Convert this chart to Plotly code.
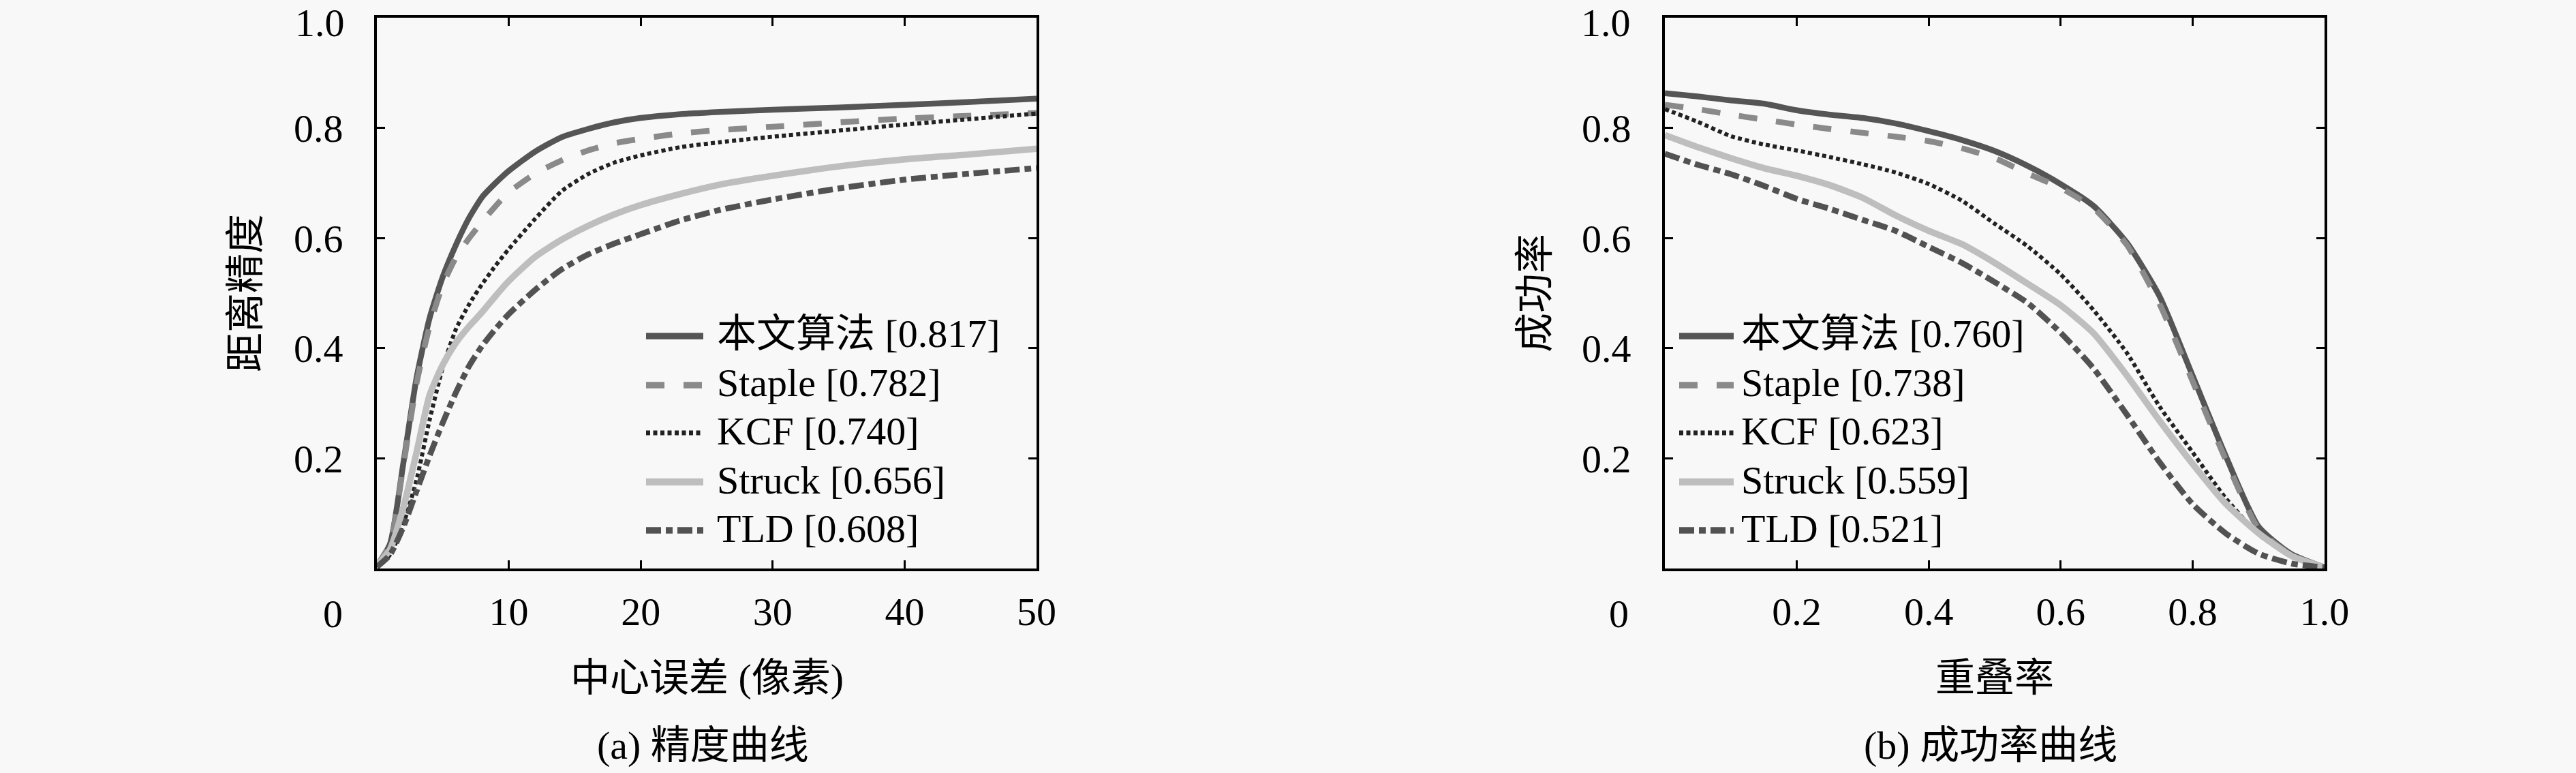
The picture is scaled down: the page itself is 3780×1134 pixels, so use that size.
import plotly.graph_objects as go

# ---------------- data ----------------
names = ["本文算法", "Staple", "KCF", "Struck", "TLD"]
prec_scores = ["0.817", "0.782", "0.740", "0.656", "0.608"]
succ_scores = ["0.760", "0.738", "0.623", "0.559", "0.521"]

# precision plot (center location error, pixels)
prec_x = [0, 1, 2, 3, 4, 5, 6, 7, 8, 9, 10, 12, 14, 16, 18, 20, 23, 26, 30, 35, 40, 45, 50]
prec_ours   = [0.005, 0.045, 0.19, 0.345, 0.455, 0.53, 0.588, 0.637, 0.675, 0.70, 0.722, 0.757, 0.783, 0.798, 0.81, 0.818, 0.825, 0.829, 0.833, 0.837, 0.842, 0.847, 0.853]
prec_staple = [0.005, 0.045, 0.185, 0.335, 0.44, 0.515, 0.565, 0.60, 0.63, 0.658, 0.683, 0.717, 0.741, 0.759, 0.772, 0.78, 0.79, 0.796, 0.802, 0.81, 0.817, 0.822, 0.827]
prec_kcf    = [0.003, 0.025, 0.08, 0.16, 0.27, 0.365, 0.435, 0.48, 0.517, 0.55, 0.58, 0.635, 0.685, 0.716, 0.737, 0.75, 0.765, 0.774, 0.784, 0.795, 0.806, 0.816, 0.826]
prec_struck = [0.005, 0.035, 0.11, 0.21, 0.315, 0.37, 0.41, 0.44, 0.466, 0.495, 0.522, 0.566, 0.597, 0.622, 0.643, 0.66, 0.68, 0.697, 0.713, 0.73, 0.743, 0.752, 0.762]
prec_tld    = [0.003, 0.025, 0.075, 0.14, 0.205, 0.265, 0.32, 0.368, 0.405, 0.435, 0.462, 0.506, 0.543, 0.57, 0.59, 0.607, 0.632, 0.651, 0.67, 0.69, 0.706, 0.717, 0.727]

# success plot (overlap threshold)
succ_x = [0, 0.05, 0.1, 0.15, 0.2, 0.25, 0.3, 0.35, 0.4, 0.45, 0.5, 0.55, 0.6, 0.65, 0.7, 0.75, 0.8, 0.85, 0.9, 0.95, 1.0]
succ_ours   = [0.863, 0.857, 0.85, 0.844, 0.832, 0.824, 0.818, 0.808, 0.794, 0.778, 0.758, 0.731, 0.698, 0.658, 0.592, 0.494, 0.35, 0.205, 0.076, 0.026, 0.002]
succ_staple = [0.842, 0.834, 0.824, 0.815, 0.806, 0.798, 0.791, 0.784, 0.776, 0.763, 0.745, 0.717, 0.691, 0.654, 0.588, 0.48, 0.34, 0.198, 0.072, 0.024, 0.002]
succ_kcf    = [0.834, 0.811, 0.785, 0.77, 0.759, 0.747, 0.734, 0.719, 0.698, 0.668, 0.626, 0.585, 0.534, 0.469, 0.392, 0.294, 0.211, 0.128, 0.062, 0.022, 0.002]
succ_struck = [0.787, 0.765, 0.745, 0.727, 0.713, 0.696, 0.673, 0.641, 0.613, 0.589, 0.555, 0.517, 0.478, 0.427, 0.351, 0.268, 0.19, 0.118, 0.064, 0.023, 0.002]
succ_tld    = [0.753, 0.733, 0.716, 0.695, 0.671, 0.653, 0.633, 0.613, 0.584, 0.555, 0.52, 0.482, 0.428, 0.363, 0.28, 0.193, 0.117, 0.064, 0.027, 0.009, 0.002]

prec_series = [prec_ours, prec_staple, prec_kcf, prec_struck, prec_tld]
succ_series = [succ_ours, succ_staple, succ_kcf, succ_struck, succ_tld]

prec_ticks = [10, 20, 30, 40, 50]
succ_ticks = [0.2, 0.4, 0.6, 0.8, 1.0]
y_ticks = [0.2, 0.4, 0.6, 0.8]
y_top_label = "1.0"

# ---------------- styles ----------------
colors = ["#555555", "#8a8a8a", "#222222", "#bebebe", "#525252"]
widths = [8.5, 8.5, 6, 9.5, 8.5]
dashes = ["solid", "27px,28px", "6px,4.5px", "solid", "22px,7px,10px,7px"]

W, H = 3780, 1134
FONT = "Liberation Serif, Noto Sans CJK SC, serif"
FS = 58
BG = "#f8f8f8"


def px(xp):
    return xp / W


def py(yp):
    return 1 - yp / H


dom1 = [px(553), px(1521)]
dom2 = [px(2443), px(3411)]
ydom = [py(834), py(26)]

fig = go.Figure()
for i, n in enumerate(names):
    fig.add_trace(go.Scatter(x=prec_x, y=prec_series[i], mode="lines", name=n,
                             line=dict(color=colors[i], width=widths[i], dash=dashes[i], shape="spline", smoothing=0.6),
                             xaxis="x", yaxis="y", showlegend=False))
for i, n in enumerate(names):
    fig.add_trace(go.Scatter(x=succ_x, y=succ_series[i], mode="lines", name=n,
                             line=dict(color=colors[i], width=widths[i], dash=dashes[i], shape="spline", smoothing=0.6),
                             xaxis="x2", yaxis="y2", showlegend=False))

axis_common = dict(showline=True, linecolor="black", linewidth=4, mirror="ticks",
                   ticks="inside", ticklen=12, tickwidth=3, tickcolor="black",
                   showgrid=False, zeroline=False, ticklabeloverflow="allow", automargin=False,
                   tickfont=dict(family=FONT, size=FS, color="black"))

fig.update_layout(
    width=W, height=H, margin=dict(l=0, r=0, t=0, b=0, pad=0, autoexpand=False),
    paper_bgcolor=BG, plot_bgcolor=BG,
    font=dict(family=FONT, size=FS, color="black"),
    xaxis=dict(domain=dom1, range=[0, 50], tickvals=prec_ticks, anchor="y", ticklabelstandoff=9, **axis_common),
    yaxis=dict(domain=ydom, range=[0, 1], tickvals=y_ticks, ticktext=[f"{v:.1f}" for v in y_ticks],
               anchor="x", ticklabelstandoff=34, **axis_common),
    xaxis2=dict(domain=dom2, range=[0, 1], tickvals=succ_ticks, ticktext=[f"{v:.1f}" for v in succ_ticks],
                anchor="y2", ticklabelstandoff=9, **axis_common),
    yaxis2=dict(domain=ydom, range=[0, 1], tickvals=y_ticks, ticktext=[f"{v:.1f}" for v in y_ticks],
                anchor="x2", ticklabelstandoff=34, **axis_common),
)

annotations = []
shapes = []

# origin "0" labels and top "1.0" labels
for right_edge in (505, 2392):
    annotations.append(dict(x=px(right_edge), y=py(900), xref="paper", yref="paper", text="0",
                            showarrow=False, xanchor="right", yanchor="middle", font=dict(size=FS)))
    annotations.append(dict(x=px(right_edge + 2), y=1, xref="paper", yref="paper", text=y_top_label,
                            showarrow=False, xanchor="right", yanchor="top", borderpad=0, font=dict(size=FS)))
# axis titles, captions
for cx, xtitle, cap in ((1037, "中心误差 (像素)", "(a) 精度曲线"),
                        (2927, "重叠率", "(b) 成功率曲线")):
    annotations.append(dict(x=px(cx), y=py(994), xref="paper", yref="paper", text=xtitle,
                            showarrow=False, xanchor="center", yanchor="middle", font=dict(size=FS)))
    annotations.append(dict(x=px(cx - 6), y=py(1093), xref="paper", yref="paper", text=cap,
                            showarrow=False, xanchor="center", yanchor="middle", font=dict(size=FS)))
annotations.append(dict(x=px(360), y=py(430), xref="paper", yref="paper", text="距离精度", textangle=-90,
                        showarrow=False, xanchor="center", yanchor="middle", font=dict(size=FS)))
annotations.append(dict(x=px(2252), y=py(430), xref="paper", yref="paper", text="成功率", textangle=-90,
                        showarrow=False, xanchor="center", yanchor="middle", font=dict(size=FS)))

# legends (sample line + label)
rows = [493, 565, 635, 707, 778]
for (x0, x1, tx, scores) in ((948, 1032, 1050, prec_scores), (2464, 2544, 2553, succ_scores)):
    for i, n in enumerate(names):
        shapes.append(dict(type="line", xref="paper", yref="paper", x0=px(x0), x1=px(x1),
                           y0=py(rows[i]), y1=py(rows[i]),
                           line=dict(color=colors[i], width=widths[i] + 1, dash=dashes[i])))
        annotations.append(dict(x=px(tx), y=py(rows[i] - 3), xref="paper", yref="paper",
                                text=f"{n} [{scores[i]}]", showarrow=False,
                                xanchor="left", yanchor="middle", font=dict(size=FS)))

fig.update_layout(annotations=annotations, shapes=shapes)
fig.write_html("out.html", config={"displayModeBar": False},
               post_script="document.body.style.margin='0px';")
